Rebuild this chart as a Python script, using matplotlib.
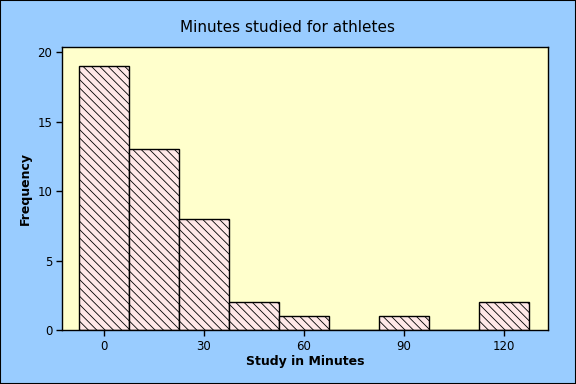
import matplotlib
matplotlib.use("Agg")
import matplotlib.pyplot as plt
from matplotlib.patches import Rectangle

# histogram data (bin midpoints, width 15)
bin_mids = [0, 15, 30, 45, 60, 75, 90, 105, 120]
counts = [19, 13, 8, 2, 1, 0, 1, 0, 2]
bin_width = 15
xticks = [0, 30, 60, 90, 120]
yticks = [0, 5, 10, 15, 20]

plt.rcParams["font.family"] = ["DejaVu Sans"]
plt.rcParams["hatch.linewidth"] = 0.6

fig = plt.figure(figsize=(5.76, 3.84), dpi=100, facecolor="#99CCFF")
ax = fig.add_axes([62 / 576, 1 - 330 / 384, (548 - 62) / 576, (330 - 47) / 384])
ax.set_facecolor("#FFFFCC")

ax.bar(bin_mids, counts, width=bin_width, color="#FFE8E8", edgecolor="black",
       linewidth=1.0, hatch="\\\\\\\\", zorder=2)

ax.set_xlim(-12.6, 133.2)
ax.set_ylim(0, 20.36)
ax.set_xticks(xticks)
ax.set_yticks(yticks)
ax.tick_params(direction="out", length=4, width=1, labelsize=8.5, colors="black", pad=3)
for s in ax.spines.values():
    s.set_linewidth(1.0)

ax.set_xlabel("Study in Minutes", fontsize=9, fontweight="semibold", labelpad=2)
ax.set_ylabel("Frequency", fontsize=9, fontweight="semibold", labelpad=4)
fig.text(0.5, 1 - 27 / 384, "Minutes studied for athletes", ha="center", va="center",
         fontsize=11)

# outer frame
fig.patches.append(Rectangle((0, 0), 1, 1, transform=fig.transFigure, fill=False,
                             edgecolor="black", linewidth=1.5))

fig.savefig("out.png", dpi=100, facecolor=fig.get_facecolor())
